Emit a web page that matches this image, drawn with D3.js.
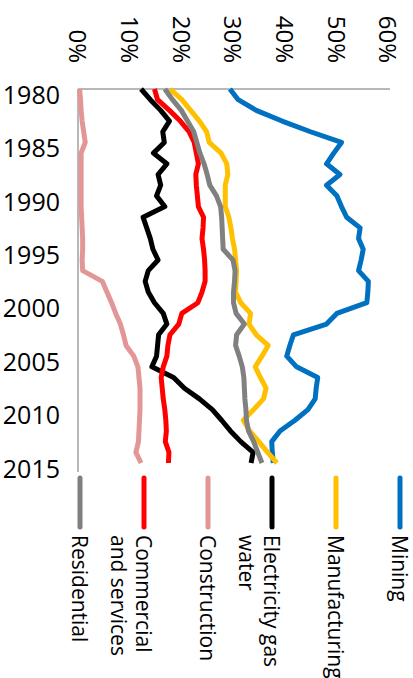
<!DOCTYPE html>
<html>
<head>
<meta charset="utf-8">
<script src="https://cdn.jsdelivr.net/npm/d3@7"></script>
<style>
  body { margin: 0; background: #fff; }
  svg { display: block; font-family: "Open Sans", sans-serif; }
</style>
</head>
<body>
<svg id="chart" width="413" height="678"></svg>
<script>
// share of each sector, % per year 1980-2015
const years = d3.range(1980, 2016);

const mining = [29.4, 31.0, 34.5, 39.5, 45.0, 51.0, 49.5, 48.1, 50.7, 48.1,
  50.1, 51.0, 52.0, 54.6, 54.3, 55.2, 54.8, 54.3, 56.2, 56.1,
  55.9, 50.1, 48.1, 41.7, 41.0, 40.4, 42.3, 46.4, 46.1, 45.9,
  44.5, 42.0, 39.1, 37.5, 37.6, 37.8];

const manufacturing = [17.8, 20.1, 21.8, 23.5, 24.9, 25.4, 27.7, 28.8, 29.0, 28.5,
  28.5, 28.5, 29.2, 29.6, 29.9, 30.3, 30.5, 30.7, 30.6, 30.5,
  31.5, 33.4, 33.1, 34.5, 36.8, 35.6, 34.3, 35.3, 36.4, 35.9,
  34.0, 32.0, 33.2, 35.0, 36.7, 38.5];

const electricity = [12.2, 14.0, 16.0, 17.7, 16.4, 16.7, 14.6, 17.2, 15.5, 16.0,
  15.2, 16.8, 12.6, 13.3, 14.0, 14.5, 15.5, 13.6, 13.0, 13.6,
  14.8, 16.5, 17.2, 15.6, 15.4, 15.2, 14.3, 18.5, 20.6, 23.5,
  26.0, 27.8, 29.5, 31.5, 33.9, 33.5];

const construction = [0.3, 0.5, 0.6, 0.8, 1.1, 1.4, 0.6, 0.6, 0.6, 0.6,
  0.6, 0.6, 0.7, 0.8, 0.9, 0.9, 0.8, 0.9, 4.7, 5.6,
  6.5, 7.3, 8.2, 8.8, 9.3, 10.8, 11.6, 11.8, 12.0, 12.0,
  12.0, 11.9, 11.8, 11.7, 11.2, 12.2];

const commercial = [14.8, 15.4, 17.7, 19.8, 21.5, 22.5, 22.9, 23.3, 22.8, 22.9,
  23.1, 23.3, 24.3, 24.2, 24.0, 24.3, 24.5, 24.6, 24.6, 24.0,
  23.2, 20.1, 19.5, 17.8, 17.4, 17.2, 16.5, 16.1, 16.3, 16.5,
  16.8, 17.0, 17.1, 16.9, 17.6, 17.5];

const residential = [16.8, 18.3, 20.0, 21.2, 22.4, 23.0, 23.6, 24.4, 25.0, 25.5,
  26.8, 27.6, 27.8, 27.9, 28.0, 28.1, 30.0, 30.4, 30.3, 30.1,
  30.1, 30.6, 32.2, 30.7, 30.5, 31.2, 31.8, 32.1, 32.2, 32.3,
  32.5, 32.6, 33.0, 34.0, 34.8, 35.6];

const seriesValues = [mining, manufacturing, electricity, construction, commercial, residential];
const seriesColors = ["#0070C0", "#FFC000", "#000000", "#E29696", "#FF0000", "#808080"];
const legendLabels = [["Mining"], ["Manufacturing"], ["Electricity gas", "water"],
  ["Construction"], ["Commercial", "and services"], ["Residential"]];

const percentTicks = [0, 10, 20, 30, 40, 50, 60];
const yearTicks = [1980, 1985, 1990, 1995, 2000, 2005, 2010, 2015];

const svg = d3.select("#chart");

// chart is drawn turned a quarter turn: years run down, shares run right
const x = d3.scaleLinear().domain([0, 60]).range([78, 388]);
const y = d3.scaleLinear().domain([1980, 2015]).range([89, 463]);

// axis lines
svg.append("line")
  .attr("x1", x(0)).attr("x2", 390)
  .attr("y1", 89).attr("y2", 89)
  .attr("stroke", "#A0A0A0").attr("stroke-width", 1.5);
svg.append("line")
  .attr("x1", x(0)).attr("x2", x(0))
  .attr("y1", 89).attr("y2", 472)
  .attr("stroke", "#A0A0A0").attr("stroke-width", 1.5);

// share labels, turned
svg.append("g").selectAll("text")
  .data(percentTicks)
  .enter().append("text")
  .attr("transform", d => "translate(" + x(d) + ",63) rotate(90)")
  .attr("text-anchor", "end")
  .attr("dy", "0.36em")
  .style("font-size", "24px")
  .attr("fill", "#000")
  .text(d => d + "%");

// year labels
svg.append("g").selectAll("text")
  .data(yearTicks)
  .enter().append("text")
  .attr("x", 60)
  .attr("y", d => y(d) + 6)
  .attr("dy", "0.35em")
  .attr("text-anchor", "end")
  .style("font-size", "25px")
  .attr("fill", "#000")
  .text(d => d);

// lines
const line = d3.line()
  .x(d => x(d[1]))
  .y(d => y(d[0]));

svg.append("g").selectAll("path")
  .data(seriesValues)
  .enter().append("path")
  .attr("d", vals => line(years.map((yr, i) => [yr, vals[i]])))
  .attr("fill", "none")
  .attr("stroke", (d, i) => seriesColors[i])
  .attr("stroke-width", 5)
  .attr("stroke-linejoin", "round");

// legend along the bottom
const legendX = d3.scaleLinear().domain([0, 5]).range([400, 80]);
const legend = svg.append("g").selectAll("g")
  .data(legendLabels)
  .enter().append("g")
  .attr("transform", (d, i) => "translate(" + legendX(i) + ",0)");

legend.append("line")
  .attr("x1", 0).attr("x2", 0)
  .attr("y1", 478).attr("y2", 527)
  .attr("stroke", (d, i) => seriesColors[i])
  .attr("stroke-width", 5)
  .attr("stroke-linecap", "round");

legend.append("text")
  .attr("transform", "translate(0,535) rotate(90)")
  .style("font-size", "21px")
  .attr("fill", "#000")
  .selectAll("tspan")
  .data(d => d)
  .enter().append("tspan")
  .attr("x", 0)
  .attr("dy", (d, j) => j === 0 ? "0.38em" : "1.17em")
  .text(d => d);
</script>
</body>
</html>
